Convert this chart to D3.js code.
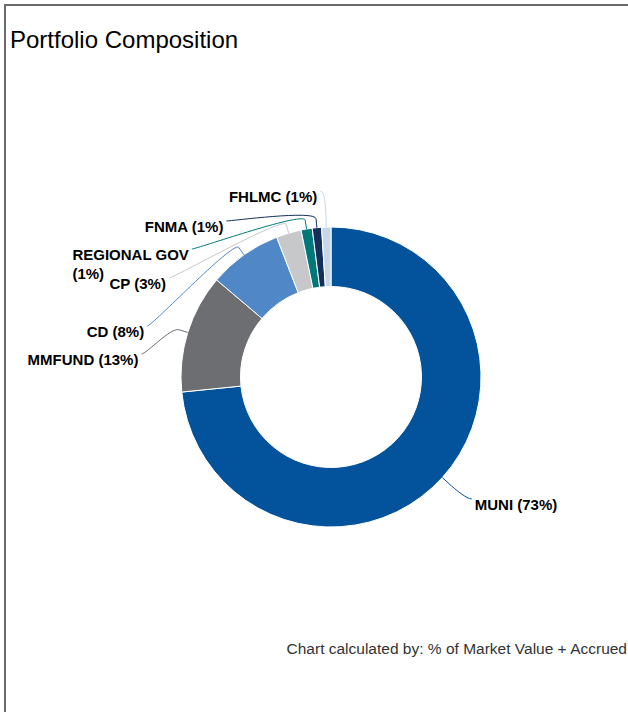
<!DOCTYPE html>
<html>
<head>
<meta charset="utf-8">
<script src="https://d3js.org/d3.v7.min.js"></script>
<style>
  body { margin: 0; background: #fff; }
  svg { display: block; font-family: "Liberation Sans", Arial, sans-serif; }
</style>
</head>
<body>
<div id="chart"></div>
<script>
// data (clockwise from 12 o'clock)
var categories = ["MUNI", "MMFUND", "CD", "CP", "REGIONAL GOV", "FNMA", "FHLMC"];
var shares = [73.4, 12.8, 7.9, 2.7, 1.2, 1.0, 1.0];
var colors = ["#02529c", "#6d6e71", "#4f87c7", "#c7c8ca", "#00787a", "#14305a", "#c6d8e8"];

var title = "Portfolio Composition";
var footnote = "Chart calculated by: % of Market Value + Accrued";

// label rows (where each connector meets its label), spread out like the original
var labelRows = [499, 354, 326, 278, 249, 221, 191];

var width = 628, height = 712;
var cx = 331, cy = 377, outerR = 150, innerR = 90.5;
var labelR = 184, labelShift = -2, crook = 9, pad = 8, maxLabelW = 130;

var svg = d3.select("#chart").append("svg")
    .attr("width", width)
    .attr("height", height);

// frame, only top and left edges are in view
svg.append("rect")
    .attr("x", 5).attr("y", 5)
    .attr("width", 900).attr("height", 900)
    .attr("fill", "none")
    .attr("stroke", "#6b6b6b")
    .attr("stroke-width", 2);

svg.append("text")
    .attr("x", 10).attr("y", 48)
    .attr("font-size", 24)
    .attr("fill", "#000")
    .text(title);

svg.append("text")
    .attr("x", 627).attr("y", 654)
    .attr("text-anchor", "end")
    .attr("font-size", 15.5)
    .attr("fill", "#333")
    .text(footnote);

var data = categories.map(function(c, i) {
  return { name: c, value: shares[i], color: colors[i], row: labelRows[i] };
});

var pie = d3.pie().sort(null).value(function(d) { return d.value; });
var arcs = pie(data);
var arc = d3.arc().innerRadius(innerR).outerRadius(outerR);

var g = svg.append("g").attr("transform", "translate(" + cx + "," + cy + ")");

g.selectAll("path.slice")
  .data(arcs)
  .enter().append("path")
    .attr("class", "slice")
    .attr("d", arc)
    .attr("fill", function(d) { return d.data.color; })
    .attr("stroke", "#fff")
    .attr("stroke-width", 1);

function polar(a, r) { return [Math.sin(a) * r, -Math.cos(a) * r]; }

// connectors + labels
arcs.forEach(function(d) {
  var mid = (d.startAngle + d.endAngle) / 2;
  var s = mid < Math.PI ? 1 : -1;
  var y = d.data.row - cy;
  var x;
  if (Math.abs(y) >= labelR) x = polar(mid, labelR)[0];      // top/bottom slot keeps natural x
  else x = labelShift + s * Math.sqrt(labelR * labelR - y * y);

  var p2 = polar(mid, outerR + crook), p3 = polar(mid, outerR);
  var ctrl = [2 * p2[0] - p3[0], 2 * p2[1] - p3[1]];
  var path = d3.path();
  path.moveTo(x + s * 5, y);
  path.bezierCurveTo(x, y, ctrl[0], ctrl[1], p2[0], p2[1]);
  path.lineTo(p3[0], p3[1]);
  g.append("path")
    .attr("d", path.toString())
    .attr("fill", "none")
    .attr("stroke", d.data.color)
    .attr("stroke-width", 1);

  var pct = "(" + Math.round(d.data.value) + "%)";
  var t = g.append("text")
      .attr("font-size", 15)
      .attr("font-weight", "bold")
      .attr("fill", "#000")
      .attr("y", y + 11);
  var tx = x + s * pad;
  t.text(d.data.name + " " + pct);
  var w = t.node().getComputedTextLength();
  if (w <= maxLabelW) {
    t.attr("x", tx).attr("text-anchor", s > 0 ? "start" : "end");
  } else {
    // wrap: name on first line, percent below, left aligned in the box
    t.text(null);
    var l1 = t.append("tspan").text(d.data.name);
    var w1 = l1.node().getComputedTextLength();
    var left = s > 0 ? tx : tx - w1;
    l1.attr("x", left);
    t.append("tspan").attr("x", left).attr("dy", 19).text(pct);
  }
});
</script>
</body>
</html>
